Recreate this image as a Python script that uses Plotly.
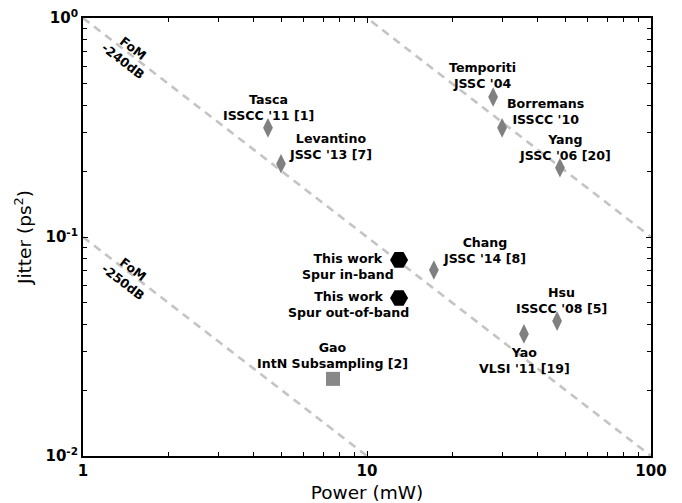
import plotly.graph_objects as go
import numpy as np

# ---- data ----
diamond_names = ["Tasca<br>ISSCC '11 [1]", "Levantino<br>JSSC '13 [7]", "Temporiti<br>JSSC '04",
                 "Borremans<br>ISSCC '10", "Yang<br>JSSC '06 [20]", "Chang<br>JSSC '14 [8]",
                 "Hsu<br>ISSCC '08 [5]", "Yao<br>VLSI '11 [19]"]
diamond_power = [4.48, 4.98, 27.8, 29.9, 47.8, 17.2, 46.7, 35.7]
diamond_jitter = [0.315, 0.216, 0.436, 0.315, 0.207, 0.0707, 0.0413, 0.0361]
# label offsets in px (dx, dy screen-up positive)
diamond_label_dx = [1, 49, -11, 43, 5, 51, 4, 1]
diamond_label_dy = [20, 17, 21, 16, 20, 19, 21, -27]

work_names = ["This work<br>Spur in-band", "This work<br>Spur out-of-band"]
work_power = [12.97, 12.97]
work_jitter = [0.0786, 0.0527]
work_label_dx = [-51, -51]
work_label_dy = [-7, -7]

gao_name = ["Gao<br>IntN Subsampling [2]"]
gao_power = [7.59]
gao_jitter = [0.0225]
gao_label_dx = [0]
gao_label_dy = [23]

fom_levels = [-250, -240, -230]
fom_labels = {-250: "FoM<br>-250dB", -240: "FoM<br>-240dB"}
power_span = [1, 100]

x_major = [1, 10, 100]
x_major_text = ["1", "10", "100"]
y_major = [0.01, 0.1, 1]
y_major_text = ["10<sup>-2</sup>", "10<sup>-1</sup>", "10<sup>0</sup>"]

FONT = "DejaVu Sans"
fig = go.Figure()

# FoM reference lines: FoM = 10log10(J[ps^2]*1e-24 * P[mW]) -> J*P = 10^((FoM+240)/10)
for f in fom_levels:
    k = 10 ** ((f + 240) / 10)
    p = np.array(power_span, dtype=float)
    fig.add_trace(go.Scatter(x=p, y=k / p, mode="lines",
                             line=dict(color="#c4c4c4", width=2.6, dash="8px,6px"),
                             hoverinfo="skip", showlegend=False))

fig.add_trace(go.Scatter(x=diamond_power, y=diamond_jitter, mode="markers",
                         marker=dict(symbol="diamond-tall", size=14, color="#808080",
                                     line=dict(width=0)), showlegend=False))
fig.add_trace(go.Scatter(x=work_power, y=work_jitter, mode="markers",
                         marker=dict(symbol="hexagon2", size=18, color="black",
                                     line=dict(width=0)), showlegend=False))
fig.add_trace(go.Scatter(x=gao_power, y=gao_jitter, mode="markers",
                         marker=dict(symbol="square", size=14, color="#888888",
                                     line=dict(width=0)), showlegend=False))

lab_font = dict(family=FONT, size=12.6, color="black", weight="bold")
for names, xs, ys, dxs, dys in [(diamond_names, diamond_power, diamond_jitter, diamond_label_dx, diamond_label_dy),
                                (work_names, work_power, work_jitter, work_label_dx, work_label_dy),
                                (gao_name, gao_power, gao_jitter, gao_label_dx, gao_label_dy)]:
    for n, x, y, dx, dy in zip(names, xs, ys, dxs, dys):
        fig.add_annotation(x=np.log10(x), y=np.log10(y), text=n, showarrow=False,
                           xshift=dx, yshift=dy, font=lab_font, align="center",
                           xanchor="center", yanchor="middle")

# FoM labels
for f, ylab in [(-240, 0.678), (-250, 0.0664)]:
    fig.add_annotation(x=np.log10(1.44), y=np.log10(ylab), text=fom_labels[f], showarrow=False,
                       textangle=37.6, font=dict(family=FONT, size=12.5, color="black", weight="bold"),
                       align="center", xanchor="center", yanchor="middle")

def minor_vals(lo, hi):
    out = []
    for d in range(lo, hi):
        for m in range(2, 10):
            out.append(m * 10 ** d)
    return out

x_minor = minor_vals(0, 2)
y_minor = minor_vals(-2, 0)

axis_common = dict(showline=True, linecolor="black", linewidth=2, mirror="ticks",
                   ticks="inside", ticklen=5, tickwidth=1.3, tickcolor="black",
                   showgrid=False, zeroline=False,
                   tickfont=dict(family=FONT, size=15, color="black", weight="bold"))

fig.update_xaxes(type="log", range=[0, 2],
                 tickvals=x_major, ticktext=x_major_text,
                 minor=dict(tickvals=x_minor, ticks="inside", ticklen=4, tickwidth=1.2,
                            tickcolor="black", showgrid=False),
                 title=dict(text="Power (mW)", font=dict(family=FONT, size=18.5, color="black"), standoff=8),
                 **axis_common)
fig.update_yaxes(type="log", range=[-2, 0],
                 tickvals=y_major, ticktext=y_major_text,
                 minor=dict(tickvals=y_minor, ticks="inside", ticklen=4, tickwidth=1.2,
                            tickcolor="black", showgrid=False),
                 title=dict(text="Jitter (ps<sup>2</sup>)", font=dict(family=FONT, size=18.5, color="black"), standoff=9),
                 **axis_common)

fig.update_layout(width=682, height=503, margin=dict(l=83, r=31, t=18, b=47, autoexpand=False),
                  plot_bgcolor="white", paper_bgcolor="white", showlegend=False)

fig.write_html("out.html")
